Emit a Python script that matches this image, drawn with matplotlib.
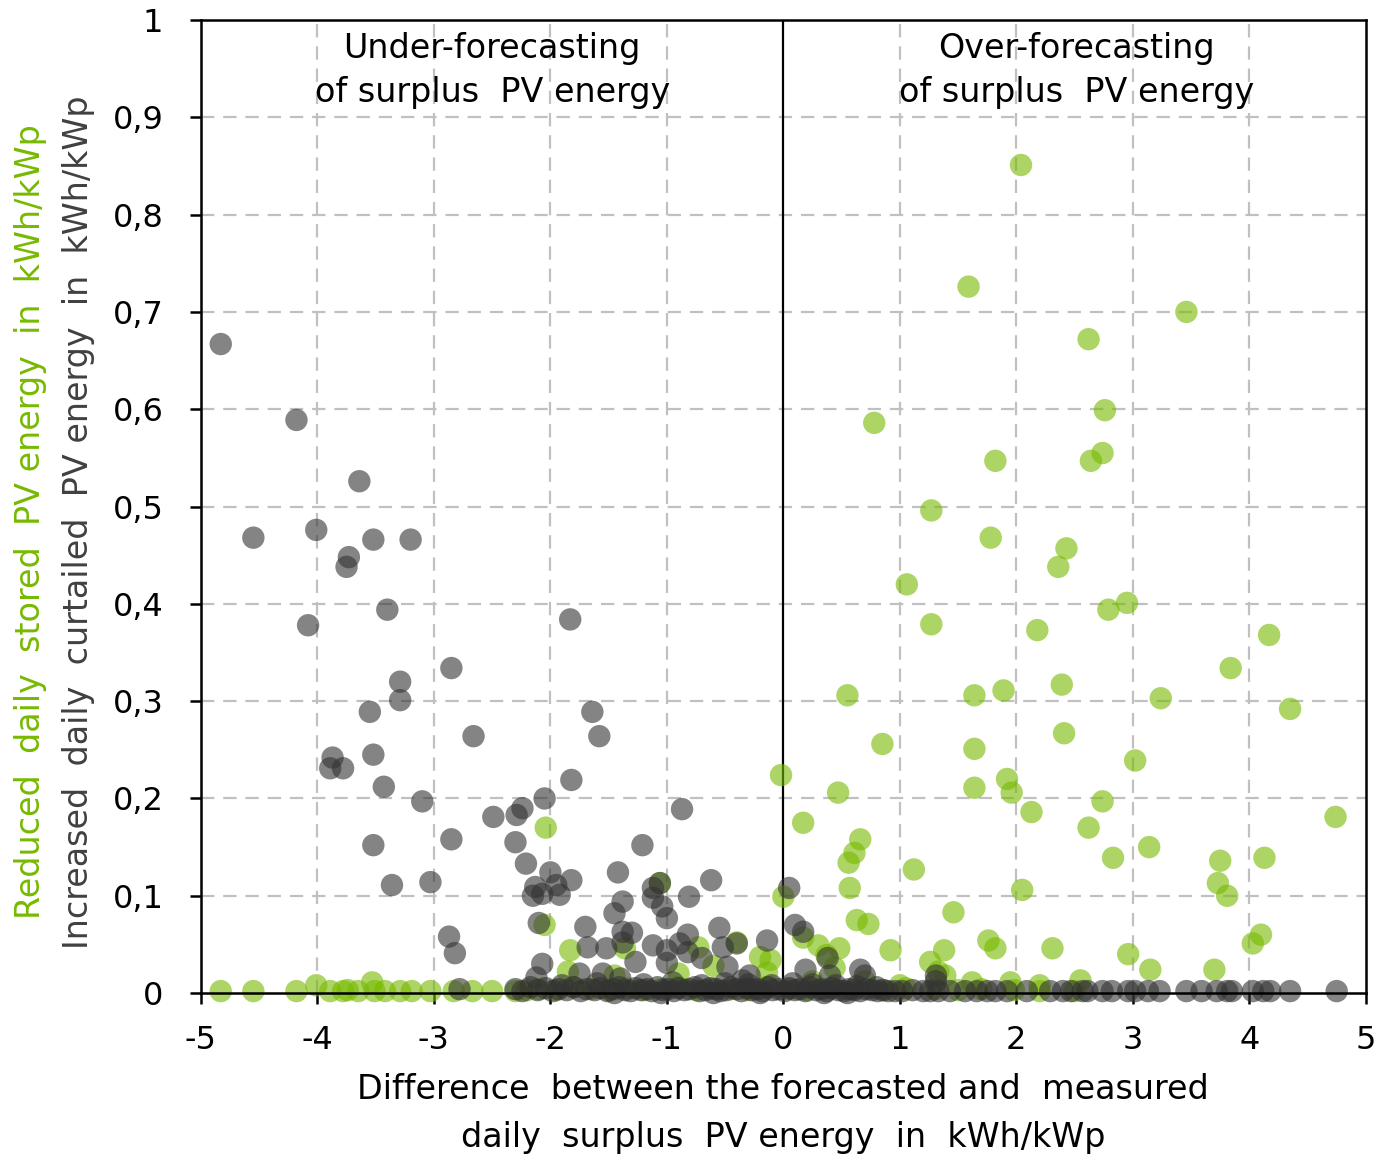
import numpy as np
import matplotlib
matplotlib.use("Agg")
import matplotlib.pyplot as plt

plt.rcParams['font.family'] = ['DejaVu Sans']

# Reduced daily stored PV energy (green), (x, y) in kWh/kWp
stored_pts = [
    (2.04, 0.851), (1.59, 0.726), (3.46, 0.700), (2.62, 0.672), (2.76, 0.599), (0.78, 0.586),
    (1.82, 0.547), (2.74, 0.555), (2.64, 0.547), (1.27, 0.496), (1.78, 0.468), (2.43, 0.457),
    (2.36, 0.438), (1.06, 0.420), (2.79, 0.394), (2.95, 0.401), (1.27, 0.379), (2.18, 0.373),
    (4.17, 0.368), (3.84, 0.334), (0.55, 0.306), (1.64, 0.306), (1.89, 0.311), (2.39, 0.317),
    (3.24, 0.303), (4.35, 0.292), (0.85, 0.256), (1.64, 0.251), (2.41, 0.267), (3.02, 0.239),
    (-0.02, 0.224), (1.92, 0.220), (1.64, 0.211), (1.96, 0.206), (0.47, 0.206), (2.74, 0.197),
    (2.13, 0.186), (4.74, 0.181), (0.17, 0.175), (-2.04, 0.170), (2.62, 0.170), (0.66, 0.158),
    (3.14, 0.150), (0.61, 0.144), (0.56, 0.134), (2.83, 0.139), (3.75, 0.136), (4.13, 0.139),
    (1.12, 0.127), (0.57, 0.108), (2.05, 0.106), (3.73, 0.113), (3.81, 0.100), (0.00, 0.099),
    (0.63, 0.075), (0.73, 0.071), (1.46, 0.083), (0.17, 0.057), (0.48, 0.046), (0.92, 0.044),
    (1.38, 0.044), (1.76, 0.054), (1.82, 0.046), (2.31, 0.046), (4.10, 0.060), (4.03, 0.051),
    (2.96, 0.040), (3.15, 0.024), (3.70, 0.024), (-2.05, 0.070), (-1.83, 0.044), (-1.36, 0.046),
    (-1.06, 0.113), (-0.73, 0.047), (-0.40, 0.052), (-0.20, 0.037), (-0.11, 0.034), (-0.14, 0.021),
    (1.26, 0.032), (1.33, 0.022), (1.39, 0.018), (1.62, 0.011), (1.95, 0.011), (2.20, 0.008),
    (2.55, 0.013), (0.30, 0.049), (0.37, 0.039), (0.44, 0.026), (-1.85, 0.022), (-1.45, 0.018),
    (-0.90, 0.020), (-0.60, 0.028), (0.25, 0.012), (0.70, 0.012), (1.00, 0.008),
]
stored_base = [
    (-4.83, 0.002), (-4.55, 0.002), (-4.18, 0.002), (-4.01, 0.008), (-3.89, 0.002), (-3.78, 0.002),
    (-3.74, 0.003), (-3.65, 0.002), (-3.53, 0.011), (-3.51, 0.002), (-3.42, 0.002), (-3.29, 0.002),
    (-3.19, 0.002), (-3.03, 0.002), (-2.83, 0.002), (-2.67, 0.002), (-2.50, 0.002), (-2.30, 0.002),
    (-2.20, 0.003), (-2.10, 0.004), (-1.95, 0.003), (-1.80, 0.006), (-1.65, 0.004), (-1.50, 0.003),
    (-1.35, 0.005), (-1.20, 0.003), (-1.05, 0.004), (-0.90, 0.006), (-0.75, 0.003), (-0.60, 0.005),
    (-0.45, 0.004), (-0.30, 0.003), (-0.15, 0.006), (0.05, 0.004), (0.20, 0.003), (0.40, 0.005),
    (0.60, 0.004), (0.85, 0.003), (1.05, 0.005), (1.30, 0.004), (1.50, 0.003), (1.70, 0.004),
    (1.98, 0.003), (2.20, 0.002), (2.50, 0.002),
]

# Increased daily curtailed PV energy (grey), (x, y) in kWh/kWp
curtail_pts = [
    (-4.83, 0.667), (-4.18, 0.589), (-4.55, 0.468), (-4.01, 0.476), (-4.08, 0.378), (-3.64, 0.526),
    (-3.73, 0.448), (-3.75, 0.438), (-3.52, 0.466), (-3.20, 0.466), (-3.40, 0.394), (-2.85, 0.334),
    (-3.29, 0.320), (-3.29, 0.301), (-3.55, 0.289), (-3.87, 0.242), (-3.89, 0.231), (-3.78, 0.231),
    (-3.52, 0.245), (-3.43, 0.212), (-3.10, 0.197), (-2.66, 0.264), (-2.85, 0.158), (-3.52, 0.152),
    (-3.36, 0.111), (-3.03, 0.114), (-2.87, 0.058), (-2.82, 0.041), (-1.83, 0.384), (-1.64, 0.289),
    (-1.58, 0.264), (-1.82, 0.219), (-2.05, 0.200), (-2.24, 0.190), (-2.29, 0.183), (-2.49, 0.181),
    (-2.30, 0.155), (-2.21, 0.133), (-1.21, 0.152), (-0.87, 0.189), (-1.42, 0.124), (-2.00, 0.124),
    (-1.82, 0.116), (-1.95, 0.111), (-2.13, 0.109), (-2.07, 0.102), (-1.92, 0.101), (-2.15, 0.100),
    (-0.62, 0.116), (-0.81, 0.099), (-1.06, 0.113), (-1.12, 0.108), (-1.12, 0.098), (-1.04, 0.089),
    (-1.00, 0.077), (-1.38, 0.094), (-1.45, 0.082), (-2.10, 0.072), (-1.70, 0.068), (-1.38, 0.063),
    (-1.30, 0.062), (-1.68, 0.047), (-1.52, 0.046), (-1.38, 0.052), (-1.00, 0.044), (-0.89, 0.051),
    (-0.82, 0.060), (-0.82, 0.042), (-0.70, 0.036), (-0.55, 0.067), (-0.52, 0.047), (-0.40, 0.051),
    (-0.48, 0.027), (-0.35, 0.013), (-0.14, 0.054), (-1.12, 0.049), (-1.00, 0.031), (-2.07, 0.030),
    (-2.12, 0.016), (-1.75, 0.020), (-1.55, 0.020), (-1.40, 0.015), (-1.27, 0.032), (-0.29, 0.018),
    (0.05, 0.108), (0.10, 0.070), (0.17, 0.063), (0.19, 0.024), (0.38, 0.036), (0.40, 0.018),
    (0.66, 0.024), (0.70, 0.018), (1.31, 0.018), (1.31, 0.012), (-2.78, 0.004),
]
curtail_base = [
    (-2.30, 0.004), (-2.24, 0.002), (-2.17, 0.006), (-2.11, 0.003), (-2.04, 0.005), (-1.98, 0.002),
    (-1.93, 0.004), (-1.86, 0.003), (-1.80, 0.006), (-1.74, 0.002), (-1.69, 0.004), (-1.62, 0.003),
    (-1.57, 0.005), (-1.51, 0.002), (-1.46, 0.004), (-1.41, 0.006), (-1.36, 0.003), (-1.31, 0.002),
    (-1.27, 0.005), (-1.22, 0.003), (-1.17, 0.004), (-1.13, 0.002), (-1.08, 0.006), (-1.03, 0.003),
    (-0.99, 0.004), (-0.94, 0.002), (-0.90, 0.005), (-0.85, 0.003), (-0.81, 0.004), (-0.76, 0.006),
    (-0.72, 0.002), (-0.67, 0.003), (-0.63, 0.005), (-0.58, 0.004), (-0.54, 0.002), (-0.49, 0.003),
    (-0.45, 0.006), (-0.40, 0.004), (-0.36, 0.002), (-0.31, 0.005), (-0.27, 0.003), (-0.22, 0.004),
    (-0.18, 0.002), (-0.13, 0.006), (-0.09, 0.003), (-0.04, 0.004), (0.01, 0.002), (0.05, 0.005),
    (0.10, 0.003), (0.14, 0.004), (0.19, 0.002), (0.23, 0.006), (0.28, 0.003), (0.33, 0.004),
    (0.37, 0.002), (0.42, 0.005), (0.47, 0.003), (0.52, 0.002), (0.56, 0.004), (0.61, 0.003),
    (0.66, 0.002), (0.71, 0.004), (0.76, 0.003), (0.81, 0.002), (0.86, 0.003), (0.90, 0.002),
    (0.96, 0.002), (1.02, 0.002), (1.11, 0.003), (1.20, 0.002), (1.26, 0.002), (1.33, 0.002),
    (1.43, 0.002), (1.56, 0.002), (1.66, 0.002), (1.75, 0.002), (1.82, 0.002), (1.92, 0.002),
    (2.09, 0.002), (2.29, 0.002), (2.40, 0.002), (2.47, 0.002), (2.57, 0.002), (2.61, 0.002),
    (2.74, 0.002), (2.82, 0.002), (2.96, 0.002), (3.02, 0.002), (3.13, 0.002), (3.23, 0.002),
    (3.46, 0.002), (3.59, 0.002), (3.72, 0.002), (3.81, 0.002), (3.85, 0.002), (4.03, 0.002),
    (4.12, 0.002), (4.18, 0.002), (4.35, 0.002), (4.75, 0.002),
    (-1.90, 0.008), (-1.60, 0.010), (-1.20, 0.009), (-0.95, 0.011), (-0.70, 0.008), (-0.50, 0.010),
    (-0.30, 0.009), (-0.10, 0.008), (0.08, 0.010), (0.25, 0.009), (0.45, 0.008), (0.63, 0.007),
    (0.80, 0.006), (-1.45, 0.000), (-1.05, 0.000), (-0.60, 0.000), (-0.20, 0.000), (0.35, 0.000),
    (0.55, 0.000),
]

x_ticks = [-5, -4, -3, -2, -1, 0, 1, 2, 3, 4, 5]
y_ticks = [0, 0.1, 0.2, 0.3, 0.4, 0.5, 0.6, 0.7, 0.8, 0.9, 1.0]
y_tick_labels = ["0", "0,1", "0,2", "0,3", "0,4", "0,5", "0,6", "0,7", "0,8", "0,9", "1"]

green = "#77b900"
grey = "#333333"

sx, sy = zip(*(stored_pts + stored_base))
cx, cy = zip(*(curtail_pts + curtail_base))

fig = plt.figure(figsize=(13.81, 11.57), dpi=100)
ax = fig.add_axes([0.1455, 0.1417, 0.8435, 0.841])

# grid
for xv in x_ticks[1:-1]:
    if xv != 0:
        ax.axvline(xv, color="#c0c0c0", lw=1.6, dashes=(6, 4), zorder=0)
for yv in y_ticks[1:-1]:
    ax.axhline(yv, color="#c0c0c0", lw=1.6, dashes=(6, 4), zorder=0)
ax.axvline(0, color="black", lw=1.6, zorder=1)

ax.scatter(sx, sy, s=260, color=green, alpha=0.6, edgecolors="none", clip_on=False, zorder=2)
ax.scatter(cx, cy, s=260, color=grey, alpha=0.6, edgecolors="none", clip_on=False, zorder=3)

ax.set_xlim(-5, 5)
ax.set_ylim(0, 1)
ax.set_xticks(x_ticks)
ax.set_xticklabels([str(v) for v in x_ticks])
ax.set_yticks(y_ticks)
ax.set_yticklabels(y_tick_labels)
ax.tick_params(axis="both", direction="out", length=8, width=1.8, labelsize=23)
ax.tick_params(axis="x", pad=15)
ax.tick_params(axis="y", pad=19)
for sp in ax.spines.values():
    sp.set_linewidth(1.8)
    sp.set_zorder(4)

ax.text(-2.5, 0.948, "Under-forecasting\nof surplus  PV energy", ha="center", va="center",
        fontsize=24, linespacing=1.4)
ax.text(2.52, 0.948, "Over-forecasting\nof surplus  PV energy", ha="center", va="center",
        fontsize=24, linespacing=1.4)

fig.text(0.567, 0.058, "Difference  between the forecasted and  measured", ha="center",
         va="center", fontsize=24)
fig.text(0.567, 0.017, "daily  surplus  PV energy  in  kWh/kWp", ha="center", va="center",
         fontsize=24)

fig.text(0.022, 0.549, "Reduced  daily  stored  PV energy  in  kWh/kWp", rotation=90,
         ha="center", va="center", fontsize=24, color=green)
fig.text(0.057, 0.549, "Increased  daily  curtailed  PV energy  in  kWh/kWp", rotation=90,
         ha="center", va="center", fontsize=24, color="#404040")

fig.savefig("out.png", dpi=100)
